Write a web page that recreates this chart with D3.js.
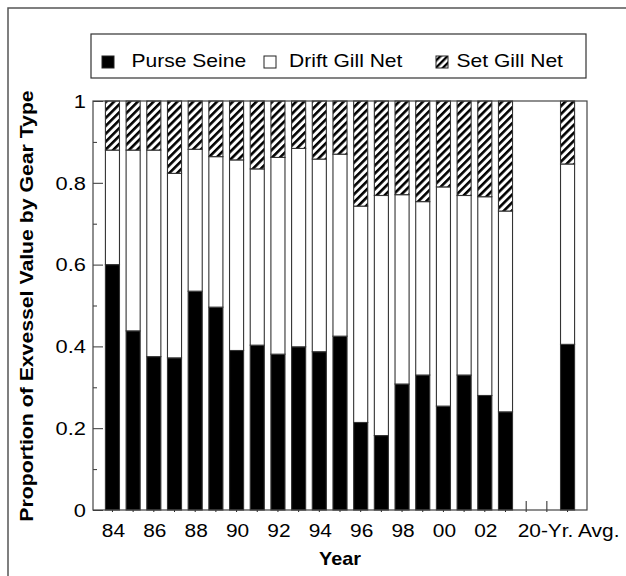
<!DOCTYPE html>
<html>
<head>
<meta charset="utf-8">
<script src="https://cdn.jsdelivr.net/npm/d3@7"></script>
<style>
  html, body { margin: 0; padding: 0; background: #fff; }
  svg text { font-family: Arial, "Liberation Sans", Helvetica, sans-serif; fill: #000; }
</style>
</head>
<body>
<svg id="chart" width="626" height="576"></svg>
<script>
// ---- Data ----
const categories = ["84","85","86","87","88","89","90","91","92","93","94","95","96","97","98","99","00","01","02","03","gap1","gap2","avg"];
const barCategories = ["84","85","86","87","88","89","90","91","92","93","94","95","96","97","98","99","00","01","02","03","avg"];
const purseSeine = [0.600,0.438,0.375,0.372,0.535,0.496,0.390,0.403,0.381,0.399,0.387,0.425,0.214,0.182,0.308,0.330,0.254,0.330,0.280,0.240,0.405];
const driftGillNet = [0.280,0.442,0.505,0.451,0.347,0.368,0.466,0.431,0.481,0.485,0.471,0.445,0.529,0.587,0.463,0.424,0.536,0.439,0.486,0.491,0.441];
const setGillNet = [0.120,0.120,0.120,0.177,0.118,0.136,0.144,0.166,0.138,0.116,0.142,0.130,0.257,0.231,0.229,0.246,0.210,0.231,0.234,0.269,0.154];
const xTickLabels = {"84":"84","86":"86","88":"88","90":"90","92":"92","94":"94","96":"96","98":"98","00":"00","02":"02","avg":"20-Yr. Avg."};
const yTickValues = [0, 0.2, 0.4, 0.6, 0.8, 1];
const yMinorValues = [0.1, 0.3, 0.5, 0.7, 0.9];
const seriesKeys = ["Purse Seine", "Drift Gill Net", "Set Gill Net"];

// ---- Layout ----
const svg = d3.select("#chart");
const L = 93, R = 587, T = 101, B = 510;

// outer frame
svg.append("rect").attr("x", 8).attr("y", 8).attr("width", 700).attr("height", 700)
  .attr("fill", "none").attr("stroke", "#555").attr("stroke-width", 1.5);

// hatch patterns
const defs = svg.append("defs");
defs.append("pattern").attr("id", "hatch").attr("patternUnits", "userSpaceOnUse")
  .attr("width", 5.6).attr("height", 5.6).attr("patternTransform", "rotate(45)")
  .call(p => {
    p.append("rect").attr("width", 5.6).attr("height", 5.6).attr("fill", "#fff");
    p.append("rect").attr("width", 2.6).attr("height", 5.6).attr("fill", "#000");
  });
defs.append("pattern").attr("id", "hatchSmall").attr("patternUnits", "userSpaceOnUse")
  .attr("width", 5).attr("height", 5).attr("patternTransform", "rotate(45)")
  .call(p => {
    p.append("rect").attr("width", 5).attr("height", 5).attr("fill", "#fff");
    p.append("rect").attr("width", 2.4).attr("height", 5).attr("fill", "#000");
  });

const x = d3.scaleBand().domain(categories).range([L, R]).paddingInner(0.32).paddingOuter(0.6);
const y = d3.scaleLinear().domain([0, 1]).range([B, T]);

// x ticks (inward) at every category
svg.append("g").selectAll("line").data(categories).join("line")
  .attr("x1", d => x(d) + x.bandwidth() / 2).attr("x2", d => x(d) + x.bandwidth() / 2)
  .attr("y1", B + 2).attr("y2", B - 9).attr("stroke", "#222").attr("stroke-width", 1);

// y ticks
svg.append("g").attr("transform", `translate(${L},0)`)
  .call(d3.axisLeft(y).tickValues(yTickValues).tickSize(-10).tickFormat(""))
  .call(g => g.select(".domain").remove())
  .call(g => g.selectAll("line").attr("stroke", "#333"));
svg.append("g").attr("transform", `translate(${L},0)`)
  .call(d3.axisLeft(y).tickValues(yMinorValues).tickSize(-4).tickFormat(""))
  .call(g => g.select(".domain").remove())
  .call(g => g.selectAll("line").attr("stroke", "#333"));

// stacked bars
const rows = barCategories.map((c, i) => ({
  cat: c, "Purse Seine": purseSeine[i], "Drift Gill Net": driftGillNet[i], "Set Gill Net": setGillNet[i]
}));
const stacked = d3.stack().keys(seriesKeys)(rows);
const fills = {"Purse Seine": "#000", "Drift Gill Net": "#fff", "Set Gill Net": "url(#hatch)"};
svg.append("g").selectAll("g").data(stacked).join("g")
  .attr("fill", s => fills[s.key])
  .selectAll("rect").data(s => s).join("rect")
  .attr("x", d => x(d.data.cat))
  .attr("width", x.bandwidth())
  .attr("y", d => y(d[1]))
  .attr("height", d => y(d[0]) - y(d[1]))
  .attr("stroke", "#333").attr("stroke-width", 1.1);

// plot box on top
svg.append("rect").attr("x", L).attr("y", T).attr("width", R - L).attr("height", B - T)
  .attr("fill", "none").attr("stroke", "#444").attr("stroke-width", 1.2);

// y tick labels
svg.append("g").selectAll("text").data(yTickValues).join("text")
  .attr("transform", d => `translate(86,${y(d) + 6.8}) scale(1.15,1)`)
  .attr("text-anchor", "end").attr("font-size", "19px")
  .text(d => d3.format("~g")(d));

// x tick labels
svg.append("g").selectAll("text").data(categories.filter(c => xTickLabels[c])).join("text")
  .attr("transform", d => `translate(${x(d) + x.bandwidth() / 2 + 1},537) scale(1.1,1)`)
  .attr("text-anchor", "middle").attr("font-size", "19px")
  .text(d => xTickLabels[d]);

// axis titles
svg.append("text").attr("transform", "translate(33,306) rotate(-90) scale(1.18,1)")
  .attr("text-anchor", "middle").attr("font-size", "18px").attr("font-weight", "bold")
  .text("Proportion of Exvessel Value by Gear Type");
svg.append("text").attr("transform", "translate(340,565) scale(1.1,1)")
  .attr("text-anchor", "middle").attr("font-size", "18px").attr("font-weight", "bold")
  .text("Year");

// legend
const lg = svg.append("g");
lg.append("rect").attr("x", 91).attr("y", 34).attr("width", 495).attr("height", 44)
  .attr("fill", "#fff").attr("stroke", "#333").attr("stroke-width", 1.2);
const legendItems = [
  {key: "Purse Seine", sx: 102, tx: 131.5, fill: "#000"},
  {key: "Drift Gill Net", sx: 264, tx: 289, fill: "#fff"},
  {key: "Set Gill Net", sx: 436, tx: 456.5, fill: "url(#hatchSmall)"}
];
legendItems.forEach(it => {
  lg.append("rect").attr("x", it.sx).attr("y", 56).attr("width", 12).attr("height", 12)
    .attr("fill", it.fill).attr("stroke", "#222").attr("stroke-width", 1);
  lg.append("text").attr("transform", `translate(${it.tx},67) scale(1.17,1)`)
    .attr("font-size", "18px").text(it.key);
});
</script>
</body>
</html>
